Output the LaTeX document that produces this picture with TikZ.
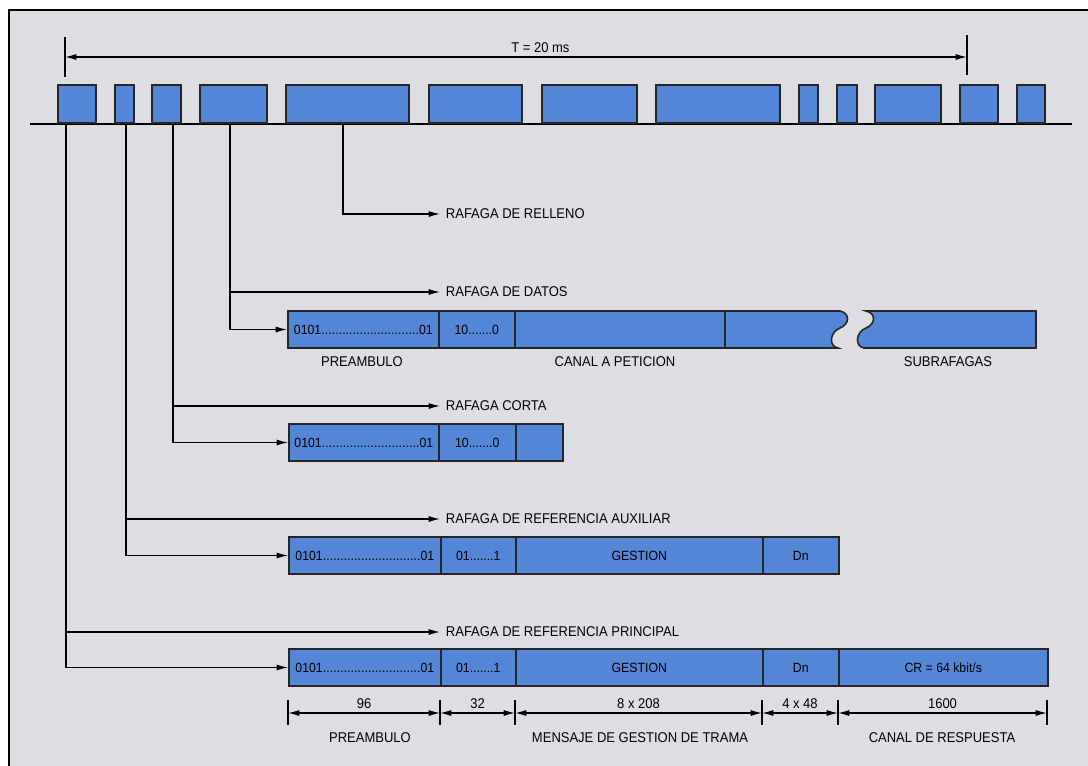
\documentclass[tikz,border=0pt]{standalone}
\usepackage{fontspec}
\setmainfont{Liberation Sans}[FakeStretch=0.92]
\usetikzlibrary{arrows.meta}
\definecolor{burst}{RGB}{84,134,216}
\definecolor{paper}{RGB}{222,221,226}
\tikzset{every picture/.style={line width=0.9pt}}
\tikzset{
  slot/.style={draw=black!85,fill=burst,line width=1.3pt,inner sep=0pt,minimum height=28.5pt,anchor=south west},
  cell/.style={draw=black!85,fill=burst,line width=1.2pt,inner sep=0pt,minimum height=27.75pt,anchor=west,font=\fontsize{10}{12}\selectfont},
  tag/.style={anchor=west,inner sep=4pt,font=\fontsize{10.6}{12}\selectfont},
  note/.style={font=\fontsize{10.6}{12}\selectfont,inner sep=1pt},
  tip/.style={-{Latex[length=8.5pt,width=4.5pt]}},
  dimarrow/.style={{Latex[length=8.5pt,width=4.5pt]}-{Latex[length=8.5pt,width=4.5pt]}},
}
\newcommand{\preamb}{\hbox to 104pt{0101\xleaders\hbox{.}\hfill01}}
\begin{document}
\begin{tikzpicture}[x=0.75pt,y=0.75pt,yscale=-1,xscale=1]
\useasboundingbox (0,0) rectangle (1088,765);

%Frame
\draw[fill=paper,line width=1.2pt] (9,10) rectangle (1110,790);

%Frame period
\coordinate (tL) at (65,57);
\coordinate (tRt) at (967,57);
\draw (tL) ++(0,-20) -- ++(0,40);
\draw (tRt) ++(0,-22) -- ++(0,40);
\draw[dimarrow] (tL) -- node[note,above=2pt,pos=0.527] {T = 20 ms} (tRt);

%Time line and bursts
\draw[line width=1.1pt] (30,124) -- (1072,124);
\node[slot,minimum width=28.5pt] (b1) at (57,124) {};
\node[slot,minimum width=14.25pt] (b2) at (114,124) {};
\node[slot,minimum width=21.75pt] (b3) at (151,124) {};
\node[slot,minimum width=50.25pt] (b4) at (199,124) {};
\node[slot,minimum width=92.25pt] (b5) at (285,124) {};
\node[slot,minimum width=69.75pt] (b6) at (428,124) {};
\node[slot,minimum width=71.25pt] (b7) at (541,124) {};
\node[slot,minimum width=93pt] (b8) at (655,124) {};
\node[slot,minimum width=14.25pt] (b9) at (798,124) {};
\node[slot,minimum width=15pt] (b10) at (836,124) {};
\node[slot,minimum width=49.5pt] (b11) at (874,124) {};
\node[slot,minimum width=28.5pt] (b12) at (959,124) {};
\node[slot,minimum width=21pt] (b13) at (1016,124) {};

%Taps under the bursts
\coordinate (tP) at (66,124);
\coordinate (tA) at (126,124);
\coordinate (tC) at (173,124);
\coordinate (tD) at (230,124);
\coordinate (tR) at (343,124);

%Burst names
\node[tag] (gR) at (440,214) {RAFAGA DE RELLENO};
\node[tag] (gD) at (440,292) {RAFAGA DE DATOS};
\node[tag] (gC) at (440,406) {RAFAGA CORTA};
\node[tag] (gA) at (440,519) {RAFAGA DE REFERENCIA AUXILIAR};
\node[tag] (gP) at (440,632) {RAFAGA DE REFERENCIA PRINCIPAL};

%Data burst
\node[cell,minimum width=113.25pt] (d1) at (287,329.5) {\preamb};
\node[cell,minimum width=57pt] (d2) at (438,329.5) {10.......0};
\node[cell,minimum width=158.25pt] (d3) at (514,329.5) {};
\path[draw=black!85,fill=burst,line width=1.2pt] (725,311) -- (840,311) .. controls (850,313) and (850,324) .. (840,328) .. controls (830,332) and (828,346) .. (838,348) -- (725,348) -- cycle;
\path[draw=black!85,fill=burst,line width=1.2pt] (866,311) -- (1036,311) -- (1036,348) -- (864,348) .. controls (854,346) and (856,332) .. (866,328) .. controls (876,324) and (876,313) .. (866,311) -- cycle;
\node[note] (lPre) at (362,362) {PREAMBULO};
\node[note] (lCan) at (615,362) {CANAL A PETICION};
\node[note] (lSub) at (948,362) {SUBRAFAGAS};

%Short burst
\node[cell,minimum width=112.5pt] (s1) at (288,442.5) {\preamb};
\node[cell,minimum width=57.75pt] (s2) at (438,442.5) {10.......0};
\node[cell,minimum width=35.25pt] (s3) at (515,442.5) {};

%Auxiliary reference burst
\node[cell,minimum width=114pt] (a1) at (288,555.5) {\preamb};
\node[cell,minimum width=56.25pt] (a2) at (440,555.5) {01.......1};
\node[cell,minimum width=185.25pt] (a3) at (515,555.5) {GESTION};
\node[cell,minimum width=57pt] (a4) at (762,555.5) {Dn};

%Principal reference burst
\node[cell,minimum width=114pt] (p1) at (288,667.5) {\preamb};
\node[cell,minimum width=56.25pt] (p2) at (440,667.5) {01.......1};
\node[cell,minimum width=185.25pt] (p3) at (515,667.5) {GESTION};
\node[cell,minimum width=57pt] (p4) at (762,667.5) {Dn};
\node[cell,minimum width=156.75pt] (p5) at (838,667.5) {CR = 64 kbit/s};

%Connectors
\draw[tip] (tR) |- (gR.west);
\draw[tip] (tD) |- (gD.west);
\draw[tip] (tD) |- (d1.west);
\draw[tip] (tC) |- (gC.west);
\draw[tip] (tC) |- (s1.west);
\draw[tip] (tA) |- (gA.west);
\draw[tip] (tA) |- (a1.west);
\draw[tip] (tP) |- (gP.west);
\draw[tip] (tP) |- (p1.west);

%Field lengths
\coordinate (m0) at (288,713);
\coordinate (m1) at (440,713);
\coordinate (m2) at (515,713);
\coordinate (m3) at (762,713);
\coordinate (m4) at (838,713);
\coordinate (m5) at (1047,713);
\foreach \i in {0,...,5} \draw (m\i) ++(0,-13) -- ++(0,25);
\draw[dimarrow] (m0) -- node[note,above=2pt] {96} (m1);
\draw[dimarrow] (m1) -- node[note,above=2pt] {32} (m2);
\draw[dimarrow] (m2) -- node[note,above=2pt] {8 x 208} (m3);
\draw[dimarrow] (m3) -- node[note,above=2pt] {4 x 48} (m4);
\draw[dimarrow] (m4) -- node[note,above=2pt] {1600} (m5);
\node[note] (fPre) at (370,738) {PREAMBULO};
\node[note] (fMsg) at (640,738) {MENSAJE DE GESTION DE TRAMA};
\node[note] (fCan) at (942,738) {CANAL DE RESPUESTA};

\end{tikzpicture}
\end{document}
